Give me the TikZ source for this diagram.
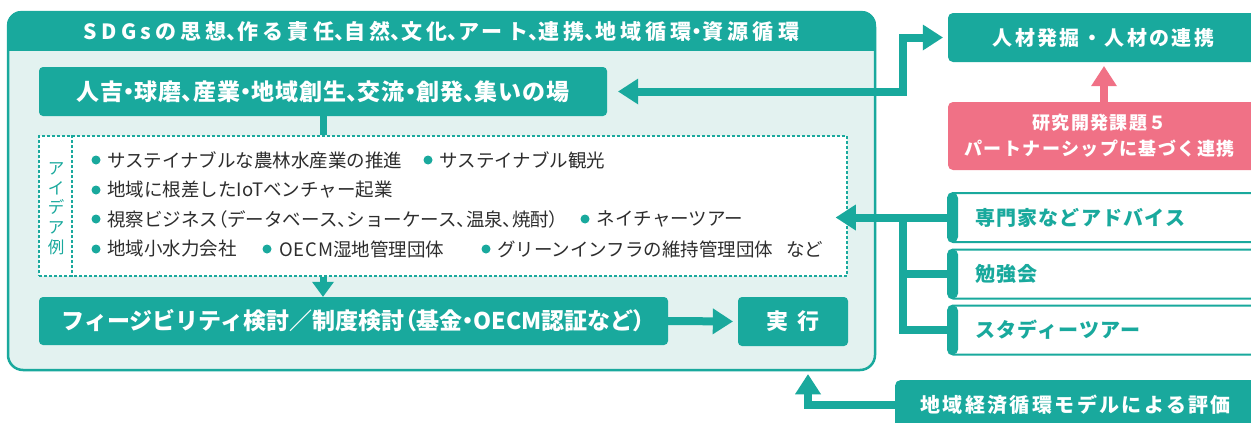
\documentclass[tikz,border=0pt]{standalone}
\usepackage{fontspec}
\setmainfont{Noto Sans CJK JP}
\newfontfamily\pnct[RawFeature=+palt]{Noto Sans CJK JP}
\newcommand{\hw}[1]{{\pnct #1}}
\newcommand{\hwh}[1]{{\pnct\addfontfeature{LetterSpace=20}#1}}
\newcommand{\wide}[1]{{\addfontfeature{LetterSpace=5}#1}}
\usetikzlibrary{arrows.meta,calc}
\definecolor{tealm}{RGB}{25,169,157}
\definecolor{tealbg}{RGB}{227,242,240}
\definecolor{pinkm}{RGB}{240,113,134}
\definecolor{graytxt}{RGB}{45,45,45}
\tikzset{
  tealbox/.style={fill=tealm, rounded corners=4pt, inner sep=0pt, text=white, font=\fontsize{23}{27}\selectfont\bfseries},
  outerbox/.style={draw=tealm, line width=2.5pt, fill=tealbg, rounded corners=15pt, inner sep=0pt},
  hdrtxt/.style={text=white, inner sep=0pt, font=\fontsize{21}{24}\selectfont\bfseries\addfontfeature{LetterSpace=20}},
  ideabox/.style={draw=tealm, fill=white, line width=1.6pt, dash pattern=on 3pt off 2pt, inner sep=0pt},
  dashln/.style={draw=tealm, line width=1.6pt, dash pattern=on 3pt off 2pt},
  idealbl/.style={text=tealm, align=center, inner sep=0pt, font=\fontsize{16.5}{19.75}\selectfont},
  bul/.style={circle, fill=tealm, minimum size=9pt, inner sep=0pt},
  itm/.style={anchor=west, text=graytxt, inner sep=0pt, font=\fontsize{18.5}{22}\selectfont},
  tealside/.style={fill=tealm, rounded corners=5pt, inner sep=0pt, text=white, font=\fontsize{20}{24}\selectfont\bfseries\addfontfeature{LetterSpace=12}},
  pinkbox/.style={fill=pinkm, rounded corners=5pt, inner sep=0pt, text=white, align=center, font=\fontsize{18}{26}\selectfont\bfseries\addfontfeature{LetterSpace=8}},
  sidebox/.style={draw=tealm, line width=2pt, fill=white, rounded corners=5pt, inner xsep=27pt, inner ysep=0pt, text width=269pt, align=left, text=tealm, minimum height=49pt,
    font=\fontsize{20}{24}\selectfont\bfseries\addfontfeature{LetterSpace=6},
    path picture={\fill[tealm] (path picture bounding box.north west) rectangle ($(path picture bounding box.south west)+(10,0)$);}},
  conn/.style={draw=tealm, line width=7pt},
  thick8/.style={draw=tealm, line width=8pt, line join=miter},
  pinkconn/.style={draw=pinkm, line width=8pt},
  bigtip/.tip={Triangle[width=26pt,length=20pt,line width=0pt]},
  smalltip/.tip={Triangle[width=22pt,length=15pt,line width=0pt]},
}
\begin{document}
\begin{tikzpicture}[x=1pt,y=-1pt]
\useasboundingbox (0,0) rectangle (1251,423);
\fill[white] (0,0) rectangle (1251,423);

% outer frame
\node[outerbox, minimum width=867pt, minimum height=358pt] (outer) at (441.5,191) {};
\begin{scope}
  \clip[rounded corners=15pt] (outer.north west) rectangle (outer.south east);
  \fill[tealm] (outer.north west) rectangle ($(outer.north east)+(0,40)$);
\end{scope}
\node[hdrtxt] (hdr) at ($(outer.north)+(0,21)$) {SDGsの思想\hwh{、}作る責任\hwh{、}自然\hwh{、}文化\hwh{、}アート\hwh{、}連携\hwh{、}地域循環\hwh{・}資源循環};

% main boxes
\node[tealbox, minimum width=568pt, minimum height=49pt, font=\fontsize{23}{27}\selectfont\bfseries\addfontfeature{LetterSpace=4}] (A) at (323,91.5) {人吉\hw{・}球磨\hw{、}産業\hw{・}地域創生\hw{、}交流\hw{・}創発\hw{、}集いの場};
\node[ideabox, minimum width=808pt, minimum height=140pt] (ideas) at (443,206) {};
\draw[conn] (A.south) -- (A.south |- ideas.north);
\draw[dashln] ($(ideas.north west)+(34,0)$) -- ($(ideas.south west)+(34,0)$);
\node[idealbl] (lbl) at (56,208.5) {ア\\イ\\デ\\ア\\例};

% idea items
\node[bul] (b11) at (96,160) {};
\node[itm] (t11) at (107,160) {サステイナブルな農林水産業の推進};
\node[bul] (b12) at (428,160) {};
\node[itm] (t12) at (439.5,160) {サステイナブル観光};
\node[bul] (b21) at (96,190) {};
\node[itm] (t21) at (107,190) {地域に根差したIoTベンチャー起業};
\node[bul] (b31) at (96,219) {};
\node[itm] (t31) at (107,219) {視察ビジネス\hw{（}データベース\hw{、}ショーケース\hw{、}温泉\hw{、}焼酎\hw{）}};
\node[bul] (b32) at (585,219) {};
\node[itm] (t32) at (596.5,219) {ネイチャーツアー};
\node[bul] (b41) at (96,249) {};
\node[itm] (t41) at (107,249) {地域小水力会社};
\node[bul] (b42) at (267,249) {};
\node[itm] (t42) at (279,249) {\wide{OECM}湿地管理団体};
\node[bul] (b43) at (486,249) {};
\node[itm] (t43) at (497,249) {グリーンインフラの維持管理団体};
\node[itm] (t44) at (786,249) {など};

\node[tealbox, minimum width=629pt, minimum height=48pt] (B) at (353.5,321) {フィージビリティ検討／制度検討\hw{（}基金\hw{・}OECM認証など\hw{）}};
\node[tealbox, minimum width=110pt, minimum height=49pt, font=\fontsize{22}{26}\selectfont\bfseries] (C) at (793,321.5) {実\hspace{9pt}行};
\draw[conn, -smalltip] (ideas.south -| A.south) -- (B.north -| A.south);
\draw[thick8, -bigtip, shorten >=5pt] (B.east) -- (C.west);

% right side boxes
\begin{scope}
  \clip (0,0) rectangle (1251,423);
  \node[tealside, minimum width=323pt, minimum height=49pt] (D) at (1109.5,37.5) {人材発掘・人材の連携\kern12pt};
  \node[pinkbox, minimum width=323pt, minimum height=68pt] (E) at (1109.5,136) {研究開発課題５\kern20pt\\パートナーシップに基づく連携\kern20pt};
  \node[sidebox] (F) at (1109.5,217.5) {専門家などアドバイス};
  \node[sidebox] (G) at (1109.5,274) {勉強会};
  \node[sidebox] (H) at (1109.5,330) {スタディーツアー};
  \node[tealside, minimum width=376pt, minimum height=50pt, anchor=north west] (I) at (895,380) {地域経済循環モデルによる評価\kern15pt};
\end{scope}

% connectors
\coordinate (bx) at (903,0);
\coordinate (px) at (1104,0);
\coordinate (ix) at (808,0);
\draw[thick8, bigtip-bigtip, shorten <=11pt, shorten >=5pt] (A.east) -- (A.east -| bx) |- (D.west);
\draw[pinkconn, -bigtip] (E.north -| px) -- ($(D.south -| px)+(0,4)$);
\draw[thick8] (H.west) -- (H.west -| bx) -- (F.west -| bx);
\draw[thick8] (G.west) -- (G.west -| bx);
\draw[thick8, -bigtip] (F.west) -- ($(ideas.east |- F.west)+(-12,0)$);
\draw[thick8, -bigtip] (I.west) -| ($(outer.south -| ix)+(0,3)$);
\end{tikzpicture}
\end{document}
